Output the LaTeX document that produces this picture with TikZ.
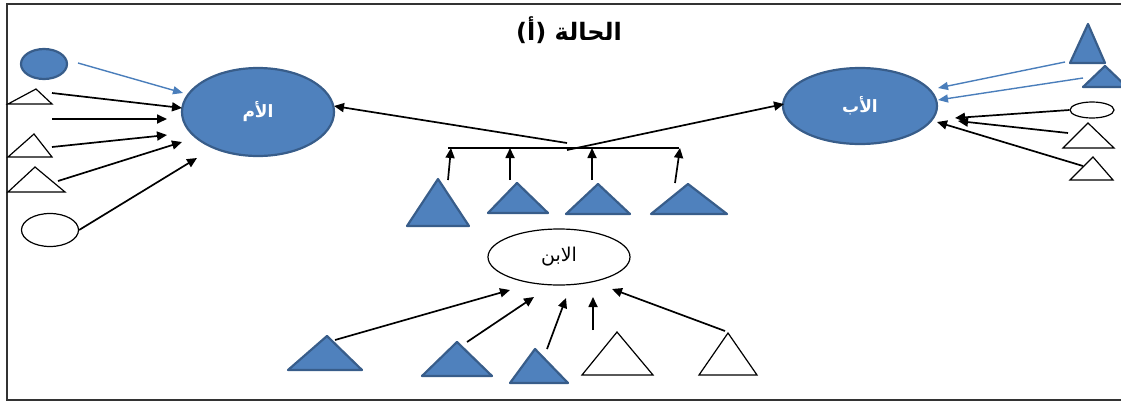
\documentclass[tikz,border=0pt]{standalone}
\usepackage{fontspec}
\usetikzlibrary{arrows.meta,shapes.geometric}
\TeXXeTstate=1
\newfontfamily\arabicfont[Script=Arabic]{DejaVu Sans}
\definecolor{fillblue}{HTML}{4F81BD}
\definecolor{edgeblue}{HTML}{385D8A}
\definecolor{arrowblue}{HTML}{4A7EBB}
\begin{document}
\begin{tikzpicture}[x=1pt,y=-1pt,
  bluefill/.style={fill=fillblue,draw=edgeblue,line width=2.2pt,line join=round},
  whiteshape/.style={fill=white,draw=black,line width=1.2pt},
  oval/.style={ellipse,inner sep=0pt},
  arr/.style={draw=black,line width=1.7pt,-{Triangle[length=10pt,width=9pt]}},
  barr/.style={draw=arrowblue,line width=1.4pt,-{Triangle[length=10pt,width=8pt]}},
  parentlabel/.style={text=white,font=\arabicfont\bfseries\fontsize{17}{20}\selectfont},
  childlabel/.style={font=\arabicfont\fontsize{19}{22}\selectfont}]
\useasboundingbox (0,0) rectangle (1121,402);
\clip (0,0) rectangle (1121,402);
% frame (open on the right)
\draw[line width=1.8pt,draw=black!80] (1130,4) -- (7,4) -- (7,400) -- (1130,400);

% title
\node (title) at (569,30) {\arabicfont\bfseries\fontsize{24}{28}\selectfont\beginR الحالة (أ)\endR};

% parents and child
\node[oval,bluefill,minimum width=152pt,minimum height=88pt,parentlabel] (mother) at (258,112) {\beginR الأم\endR};
\node[oval,bluefill,minimum width=154pt,minimum height=76pt,parentlabel] (father) at (860,106) {\beginR الأب\endR};
\node[oval,whiteshape,minimum width=142pt,minimum height=56pt,childlabel] (son) at (559,257) {\beginR الابن\endR};

% left-hand group
\node[oval,bluefill,minimum width=46pt,minimum height=30pt] (lcirc) at (44,64) {};
\draw[whiteshape] (8,104) -- (36,89) -- (52,104) -- cycle;
\draw[whiteshape] (8,157) -- (34,134) -- (52,157) -- cycle;
\draw[whiteshape] (8,192) -- (35,167) -- (65,192) -- cycle;
\node[oval,whiteshape,minimum width=57pt,minimum height=33pt] (lell) at (50,230) {};

\coordinate (l0s) at (78,63);   \coordinate (l0e) at (183,93);
\coordinate (l1s) at (52,93);   \coordinate (l1e) at (182,108);
\coordinate (l2s) at (52,119);  \coordinate (l2e) at (167,119);
\coordinate (l3s) at (52,147);  \coordinate (l3e) at (167,135);
\coordinate (l4s) at (58,181);  \coordinate (l4e) at (182,142);
\coordinate (l5e) at (197,158);
\draw[barr] (l0s) -- (l0e);
\draw[arr] (l1s) -- (l1e);
\draw[arr] (l2s) -- (l2e);
\draw[arr] (l3s) -- (l3e);
\draw[arr] (l4s) -- (l4e);
\draw[arr] (lell.east) -- (l5e);

% right-hand group
\draw[bluefill] (1070,63) -- (1088,24) -- (1105,63) -- cycle;
\draw[bluefill] (1083,87) -- (1105,66) -- (1127,87) -- cycle;
\node[oval,whiteshape,minimum width=44pt,minimum height=16pt] (rell) at (1092,110) {};
\draw[whiteshape] (1063,148) -- (1088,123) -- (1114,148) -- cycle;
\draw[whiteshape] (1070,180) -- (1093,157) -- (1113,180) -- cycle;

\coordinate (r1s) at (1065,62);  \coordinate (r1e) at (938,88);
\coordinate (r2s) at (1083,78);  \coordinate (r2e) at (938,100);
\coordinate (r3e) at (955,118);
\coordinate (r4s) at (1068,133); \coordinate (r4e) at (958,121);
\coordinate (r5s) at (1083,166); \coordinate (r5e) at (937,122);
\draw[barr] (r1s) -- (r1e);
\draw[barr] (r2s) -- (r2e);
\draw[arr] (rell.west) -- (r3e);
\draw[arr] (r4s) -- (r4e);
\draw[arr] (r5s) -- (r5e);

% shared group feeding both parents
\coordinate (jm) at (567,143);
\coordinate (jf) at (567,150);
\coordinate (me) at (334,106);
\coordinate (fe) at (784,104);
\draw[arr] (jm) -- (me);
\draw[arr] (jf) -- (fe);
\coordinate (barL) at (448,148);
\coordinate (barR) at (679,148);
\draw[line width=1.2pt] (barL) -- (barR);

\draw[bluefill] (407,226) -- (438,179) -- (469,226) -- cycle;
\draw[bluefill] (488,213) -- (517,183) -- (548,213) -- cycle;
\draw[bluefill] (566,214) -- (598,184) -- (630,214) -- cycle;
\draw[bluefill] (651,214) -- (688,184) -- (727,214) -- cycle;

\coordinate (u1s) at (448,180); \coordinate (u1e) at (451,148);
\coordinate (u2s) at (510,180); \coordinate (u2e) at (510,148);
\coordinate (u3s) at (592,180); \coordinate (u3e) at (592,148);
\coordinate (u4s) at (675,183); \coordinate (u4e) at (680,148);
\draw[arr] (u1s) -- (u1e);
\draw[arr] (u2s) -- (u2e);
\draw[arr] (u3s) -- (u3e);
\draw[arr] (u4s) -- (u4e);

% child's group
\draw[bluefill] (288,370) -- (327,336) -- (362,370) -- cycle;
\draw[bluefill] (422,376) -- (457,342) -- (492,376) -- cycle;
\draw[bluefill] (510,383) -- (535,349) -- (568,383) -- cycle;
\draw[whiteshape] (582,375) -- (617,332) -- (653,375) -- cycle;
\draw[whiteshape] (699,375) -- (728,333) -- (757,375) -- cycle;

\coordinate (b1s) at (335,340); \coordinate (b1e) at (510,290);
\coordinate (b2s) at (467,342); \coordinate (b2e) at (534,297);
\coordinate (b3s) at (547,349); \coordinate (b3e) at (566,298);
\coordinate (b4s) at (593,330); \coordinate (b4e) at (593,297);
\coordinate (b5s) at (725,331); \coordinate (b5e) at (612,289);
\draw[arr] (b1s) -- (b1e);
\draw[arr] (b2s) -- (b2e);
\draw[arr] (b3s) -- (b3e);
\draw[arr] (b4s) -- (b4e);
\draw[arr] (b5s) -- (b5e);
\end{tikzpicture}
\end{document}
